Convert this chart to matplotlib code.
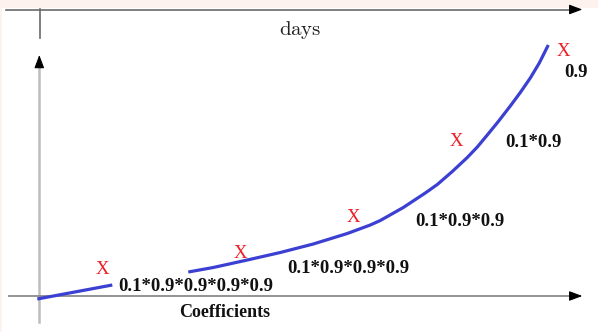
import matplotlib
matplotlib.use("Agg")
import matplotlib.pyplot as plt
from matplotlib.patches import Rectangle

# Weight curve (x: days from origin, y: coefficient size), two pieces
early_x = [-2, 73]
early_y = [-3, 11]
late_x = [149, 174, 208, 241, 274, 308, 331, 341, 364, 386, 398, 413, 428,
          438, 448, 459, 471, 481, 491, 500, 509]
late_y = [24, 28.5, 36, 43.5, 52, 62.5, 71, 75.5, 88.5, 103, 111.5, 124.5, 138.5,
          149, 161, 174.5, 190, 203.5, 218, 233, 251]

# Sample markers on the curve
marker_x = [63, 201, 314, 417, 524]
marker_y = [22, 38, 74, 150, 240]

# Coefficient labels
coef_labels = ["0.1*0.9*0.9*0.9*0.9", "0.1*0.9*0.9*0.9", "0.1*0.9*0.9", "0.1*0.9", "0.9"]
coef_x = [79, 248, 376, 466, 525]
coef_y = [5, 23, 70, 149, 219]

W, H = 598, 332
fig = plt.figure(figsize=(W / 100, H / 100), dpi=100)
fig.patch.set_facecolor("#fdf2ee")
ax = fig.add_axes([0, 0, 1, 1])
ax.set_xlim(-39.3, W - 39.3)
ax.set_ylim(-36, H - 36)
ax.axis("off")
ax.add_patch(Rectangle((2 / W, 0), 1, (H - 8) / H, transform=ax.transAxes,
                       facecolor="white", edgecolor="none", zorder=0))

serif = "Liberation Serif"
head = dict(arrowstyle="-|>,head_length=0.8,head_width=0.3",
            color="black", lw=0.8, shrinkA=0, shrinkB=0, mutation_scale=10)

# Top "days" axis
ax.plot([-33, 536], [286.5, 286.5], color="#6a6a6a", lw=1.2, zorder=1)
ax.annotate("", xy=(543, 286.5), xytext=(535, 286.5), arrowprops=head)
ax.plot([0.7, 0.7], [258, 287], color="#6a6a6a", lw=1.2, zorder=1)
plt.rcParams["mathtext.fontset"] = "cm"
ax.text(261, 261, r"$\mathrm{days}$", fontsize=15, ha="center", va="baseline", color="#222222")

# Main axes
ax.plot([0, 0], [-26, 236], color="#bdbdbd", lw=1.8, zorder=1)
ax.annotate("", xy=(0, 241), xytext=(0, 233), arrowprops=head)
ax.plot([-30, 536], [0, 0], color="#8a8a8a", lw=1.3, zorder=1)
ax.annotate("", xy=(543, 0), xytext=(535, 0), arrowprops=head)

# Curve
blue = "#3c40d2"
ax.plot(early_x, early_y, color=blue, lw=2.3, solid_capstyle="butt", zorder=3)
ax.plot(late_x, late_y, color=blue, lw=2.3, solid_capstyle="butt",
        solid_joinstyle="round", zorder=3)

for x, y in zip(marker_x, marker_y):
    ax.text(x, y, "X", fontsize=13.5, family=serif, color="#ee1c25",
            ha="center", va="baseline", zorder=4)

for lab, x, y in zip(coef_labels, coef_x, coef_y):
    ax.text(x, y, lab, fontsize=13.5, family=serif, fontweight="bold",
            ha="left", va="baseline", color="#111111", zorder=4)

ax.text(185, -21, "Coefficients", fontsize=13, family=serif, fontweight="bold",
        ha="center", va="baseline", color="#111111")

fig.savefig("out.png", dpi=100, facecolor=fig.get_facecolor())
